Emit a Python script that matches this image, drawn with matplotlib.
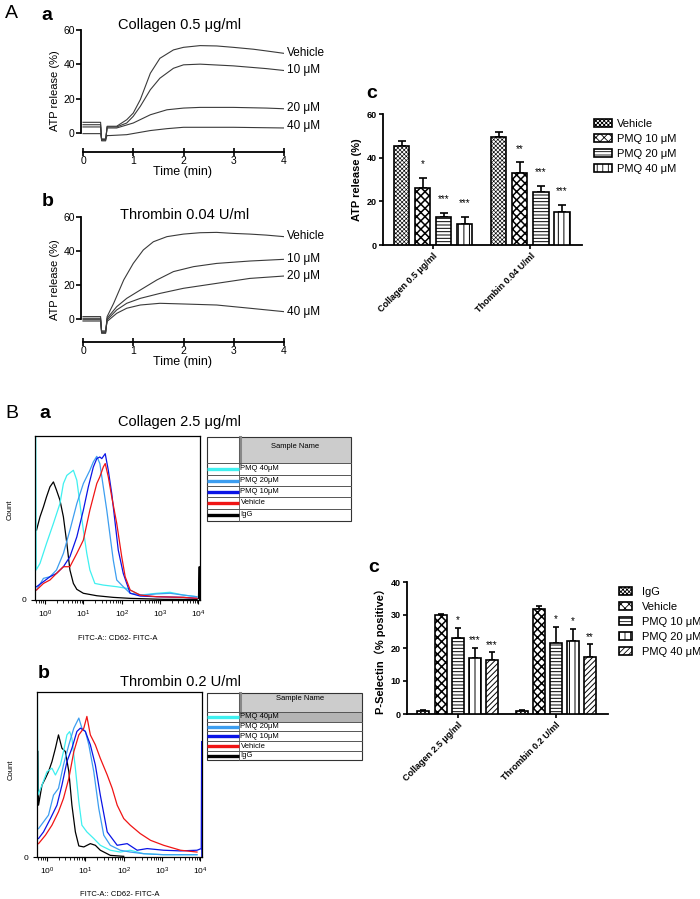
import numpy as np
import matplotlib
matplotlib.use("Agg")
import matplotlib.pyplot as plt
from matplotlib.patches import Rectangle, Patch
from matplotlib.ticker import LogLocator, NullFormatter

plt.rcParams['font.family'] = ['Liberation Sans', 'DejaVu Sans']
plt.rcParams['hatch.linewidth'] = 0.6

# ---------------- data ----------------
dose_names = ['Vehicle', '10 μM', '20 μM', '40 μM']

# A a: collagen 0.5 ug/ml, ATP release traces (time min, %)
aa_veh_t = [0, 0.35, 0.37, 0.45, 0.48, 0.67, 0.87, 1.0, 1.14, 1.34, 1.53, 1.8, 2.0, 2.33, 2.66, 2.99, 3.39, 3.65, 4.0]
aa_veh_v = [6.2, 6.2, -4.6, -4.6, 3.9, 3.9, 7.7, 11.6, 19.4, 34.8, 43.5, 48.4, 49.9, 50.9, 50.7, 49.9, 48.8, 47.8, 46.4]
aa_10_t = [0, 0.35, 0.37, 0.45, 0.48, 0.67, 0.87, 1.0, 1.14, 1.34, 1.53, 1.8, 2.0, 2.33, 2.99, 3.65, 4.0]
aa_10_v = [4.8, 4.8, -4.2, -4.2, 3.5, 3.5, 5.8, 9.7, 15.5, 25.2, 31.9, 37.7, 39.7, 40.1, 39.1, 37.5, 36.4]
aa_20_t = [0, 0.35, 0.37, 0.45, 0.48, 0.67, 1.0, 1.34, 1.67, 2.0, 2.33, 2.99, 3.65, 4.0]
aa_20_v = [3.5, 3.5, -3.8, -3.8, 2.9, 2.9, 5.8, 10.6, 13.5, 14.5, 14.9, 14.9, 14.5, 14.1]
aa_40_t = [0, 0.35, 0.37, 0.45, 0.48, 0.54, 0.87, 1.34, 1.67, 2.0, 2.99, 4.0]
aa_40_v = [-0.4, -0.4, -3.5, -3.5, -1.5, -1.5, -1.0, 1.4, 2.5, 3.3, 3.3, 2.9]
aa_label_y = [46.8, 36.8, 14.5, 3.9]

# A b: thrombin 0.04 U/ml
ab_veh_t = [0, 0.35, 0.37, 0.45, 0.48, 0.61, 0.81, 1.0, 1.2, 1.4, 1.67, 2.0, 2.33, 2.66, 2.99, 3.32, 3.65, 4.0]
ab_veh_v = [1.4, 1.4, -8.4, -8.4, 1.4, 9.2, 22.9, 32.6, 40.5, 45.3, 48.3, 49.8, 50.6, 50.8, 50.2, 49.8, 49.2, 48.3]
ab_10_t = [0, 0.35, 0.37, 0.45, 0.48, 0.67, 0.87, 1.14, 1.47, 1.8, 2.2, 2.66, 3.32, 4.0]
ab_10_v = [0.4, 0.4, -8.0, -8.0, 0.4, 7.2, 12.1, 17.0, 22.9, 27.8, 30.7, 32.6, 34.0, 35.0]
ab_20_t = [0, 0.35, 0.37, 0.45, 0.48, 0.67, 0.87, 1.14, 1.53, 2.0, 2.66, 3.32, 4.0]
ab_20_v = [-0.4, -0.4, -7.5, -7.5, -0.5, 5.3, 9.2, 12.1, 15.0, 18.0, 20.9, 23.8, 25.2]
ab_40_t = [0, 0.35, 0.37, 0.45, 0.48, 0.67, 0.87, 1.14, 1.53, 2.0, 2.66, 3.32, 4.0]
ab_40_v = [-1.2, -1.2, -7.0, -7.0, -1.4, 3.3, 6.3, 8.2, 9.2, 8.8, 8.2, 6.3, 4.3]
ab_label_y = [48.7, 35.0, 25.2, 4.3]

# A c: ATP release bars
atp_groups = ['Collagen 0.5 μg/ml', 'Thombin 0.04 U/ml']
atp_names = ['Vehicle', 'PMQ 10 μM', 'PMQ 20 μM', 'PMQ 40 μM']
atp_mean = [[45.5, 26.3, 12.6, 9.6], [49.3, 32.9, 24.5, 15.3]]
atp_err = [[2.3, 4.3, 1.9, 3.1], [2.4, 4.9, 2.6, 2.9]]
atp_stars = [['', '*', '***', '***'], ['', '**', '***', '***']]

# B c: P-selectin bars
ps_groups = ['Collagen 2.5 μg/ml', 'Thrombin 0.2 U/ml']
ps_names = ['IgG', 'Vehicle', 'PMQ 10 μM', 'PMQ 20 μM', 'PMQ 40 μM']
ps_mean = [[0.8, 30.0, 22.9, 17.1, 16.4], [1.0, 31.8, 21.6, 22.2, 17.4]]
ps_err = [[0.3, 0.4, 3.2, 3.0, 2.3], [0.3, 1.0, 4.8, 3.7, 3.7]]
ps_stars = [['', '', '*', '***', '***'], ['', '', '*', '*', '**']]

# B a: flow histograms, collagen (FITC decade, % of max count)
ba_igg_d = [-0.22, -0.13, -0.04, 0.04, 0.13, 0.22, 0.30, 0.39, 0.48, 0.57, 0.65, 0.74, 0.83, 1.0, 1.35, 1.78, 2.22, 3.09, 3.96, 4.0, 4.02, 4.03]
ba_igg_c = [42.6, 50.7, 56.8, 62.9, 69.0, 72.0, 67.0, 60.9, 50.7, 34.5, 18.3, 10.1, 6.5, 4.1, 2.6, 1.6, 1.0, 0.4, 0.4, 1.0, 20.3, 0]
ba_40_d = [-0.25, -0.245, -0.23, -0.13, 0.04, 0.22, 0.39, 0.48, 0.57, 0.74, 0.83, 0.91, 1.0, 1.09, 1.17, 1.30, 1.52, 1.87, 2.13, 2.48, 2.91, 3.26, 3.61, 3.96]
ba_40_c = [0, 100, 18.3, 22.3, 34.5, 46.7, 58.8, 71.0, 76.0, 79.1, 73.0, 58.8, 42.6, 28.4, 18.3, 10.1, 9.1, 8.1, 7.1, 3.0, 4.1, 4.7, 3.0, 2.0]
ba_20_d = [-0.22, -0.04, 0.13, 0.30, 0.48, 0.65, 0.83, 1.0, 1.17, 1.26, 1.35, 1.43, 1.52, 1.61, 1.70, 1.78, 1.87, 2.04, 2.22, 2.57, 2.91, 3.26, 3.61, 3.96]
ba_20_c = [6.1, 13.2, 14.2, 18.3, 28.4, 42.6, 58.8, 71.0, 79.1, 84.2, 87.6, 83.2, 69.0, 54.8, 38.5, 24.3, 12.2, 8.1, 4.1, 3.0, 3.7, 4.1, 3.0, 2.0]
ba_10_d = [-0.22, -0.04, 0.13, 0.30, 0.48, 0.65, 0.83, 1.0, 1.13, 1.26, 1.35, 1.43, 1.48, 1.57, 1.65, 1.74, 1.83, 1.91, 2.04, 2.22, 2.48, 2.91, 3.61, 3.96]
ba_10_c = [8.1, 11.2, 14.2, 16.2, 20.3, 26.4, 38.5, 54.8, 69.0, 81.1, 86.2, 87.2, 86.2, 89.2, 79.1, 64.9, 46.7, 30.4, 16.2, 4.1, 2.4, 2.0, 1.6, 1.0]
ba_veh_d = [-0.22, -0.04, 0.13, 0.30, 0.48, 0.65, 0.83, 1.0, 1.17, 1.35, 1.43, 1.52, 1.57, 1.65, 1.74, 1.87, 2.0, 2.09, 2.22, 2.48, 2.91, 3.61, 3.96]
ba_veh_c = [6.1, 10.1, 12.2, 16.2, 20.3, 20.3, 28.4, 36.5, 54.8, 71.0, 75.1, 81.1, 83.2, 75.1, 62.9, 46.7, 26.4, 14.2, 6.1, 3.0, 2.0, 1.6, 1.0]

# B b: flow histograms, thrombin
bb_igg_d = [-0.235, -0.22, -0.13, -0.04, 0.04, 0.13, 0.22, 0.30, 0.39, 0.48, 0.57, 0.65, 0.74, 0.83, 0.96, 1.13, 1.26, 1.39, 1.65, 2.0]
bb_igg_c = [64.0, 31.4, 43.6, 47.7, 51.7, 57.8, 65.9, 74.0, 65.9, 63.9, 51.7, 31.4, 15.2, 6.7, 6.1, 8.1, 7.1, 4.1, 1.0, 0.4]
bb_40_d = [-0.255, -0.25, -0.235, -0.13, 0.0, 0.13, 0.22, 0.35, 0.43, 0.52, 0.59, 0.65, 0.74, 0.83, 0.91, 1.04, 1.22, 1.39, 1.65, 1.91, 2.17, 2.52, 3.04, 3.91]
bb_40_c = [0, 100, 37.5, 43.6, 51.7, 53.8, 49.7, 55.8, 63.9, 74.0, 76.0, 72.0, 53.8, 33.5, 19.3, 15.2, 11.2, 7.1, 4.1, 3.0, 4.1, 2.0, 1.4, 1.4]
bb_20_d = [-0.22, -0.09, 0.04, 0.17, 0.30, 0.43, 0.57, 0.70, 0.83, 0.91, 1.0, 1.09, 1.22, 1.35, 1.48, 1.65, 1.91, 2.17, 2.52, 3.04, 3.91]
bb_20_c = [17.2, 21.3, 25.4, 37.5, 41.6, 55.8, 68.0, 78.1, 84.2, 78.1, 76.1, 68.0, 51.7, 29.4, 13.2, 7.1, 4.1, 3.0, 2.0, 1.4, 1.4]
bb_10_d = [-0.22, -0.09, 0.09, 0.26, 0.39, 0.52, 0.65, 0.78, 0.87, 1.0, 1.13, 1.26, 1.39, 1.57, 1.83, 2.09, 2.35, 2.61, 3.04, 3.48, 3.91, 4.02, 4.03, 4.035]
bb_10_c = [11.2, 15.2, 23.3, 31.4, 43.6, 57.8, 65.9, 76.1, 78.1, 76.1, 68.0, 55.8, 37.5, 15.2, 7.1, 8.1, 4.1, 5.1, 4.1, 3.7, 4.1, 5.1, 70.0, 0]
bb_veh_d = [-0.22, -0.04, 0.13, 0.30, 0.43, 0.57, 0.70, 0.83, 0.96, 1.04, 1.13, 1.26, 1.39, 1.57, 1.70, 1.83, 2.0, 2.17, 2.43, 2.70, 3.04, 3.48, 3.91]
bb_veh_c = [8.1, 13.2, 19.3, 27.4, 35.5, 47.7, 63.9, 74.0, 78.1, 85.2, 74.0, 68.0, 59.8, 49.7, 41.6, 31.4, 23.3, 19.3, 14.2, 10.1, 7.1, 4.1, 3.0]

sample_names = ['PMQ 40μM', 'PMQ 20μM', 'PMQ 10μM', 'Vehicle', 'IgG']
sample_colors = ['#3ff0f0', '#3d9ef0', '#0a14e6', '#f01414', '#000000']

# ---------------- figure ----------------
W, H = 700, 899
fig = plt.figure(figsize=(7, 8.99), dpi=100)


def box(l, t, r, b):
    return [l / W, 1 - b / H, (r - l) / W, (b - t) / H]


def release_panel(rect, curves, label_y, ymin):
    ax = fig.add_axes(rect)
    for t, v in curves:
        ax.plot(t, v, color='#3a3a3a', lw=0.8)
    for name, y in zip(dose_names, label_y):
        ax.text(4.06, y, name, fontsize=8.5, va='center', ha='left', clip_on=False)
    ax.set_xlim(-0.04, 4.0)
    ax.set_ylim(ymin, 60)
    ax.spines[['top', 'right']].set_visible(False)
    ax.spines['left'].set_bounds(0, 60)
    ax.spines['bottom'].set_bounds(0, 4)
    for s in ['left', 'bottom']:
        ax.spines[s].set_linewidth(1.3)
    ax.set_xticks([0, 1, 2, 3, 4])
    ax.set_yticks([0, 20, 40, 60])
    ax.tick_params(axis='x', direction='inout', length=6, width=1.2, labelsize=7.5, pad=0)
    ax.tick_params(axis='y', direction='out', length=3.5, width=1.2, labelsize=7.5, pad=1)
    ax.set_xlabel('Time (min)', fontsize=9, labelpad=0)
    ax.set_ylabel('ATP release (%)', fontsize=8, labelpad=2)
    return ax


release_panel(box(81, 30, 284, 152),
              [(aa_veh_t, aa_veh_v), (aa_10_t, aa_10_v), (aa_20_t, aa_20_v), (aa_40_t, aa_40_v)],
              aa_label_y, -11.1)
release_panel(box(81, 216.7, 284, 342),
              [(ab_veh_t, ab_veh_v), (ab_10_t, ab_10_v), (ab_20_t, ab_20_v), (ab_40_t, ab_40_v)],
              ab_label_y, -13.5)


def hatched(p, hatch, hlw):
    p.set_hatch(hatch)
    if hasattr(p, 'set_hatch_linewidth'):
        p.set_hatch_linewidth(hlw)


def bar_panel(rect, groups, names, means, errs, stars, hatches, hatch_lws, ymax, step, width,
              capsize, star_off, ylabel, leg_xy, leg_fs, leg_hl, leg_pad):
    ax = fig.add_axes(rect)
    n = len(names)
    handles = []
    for i in range(n):
        xs = [g + (i - (n - 1) / 2) * step for g in range(len(groups))]
        m = [means[g][i] for g in range(len(groups))]
        e = [errs[g][i] for g in range(len(groups))]
        ax.errorbar(xs, m, yerr=[np.zeros(len(e)), e], fmt='none', ecolor='black',
                    elinewidth=1.2, capsize=capsize, capthick=1.2, zorder=2)
        bars = ax.bar(xs, m, width=width, facecolor='white', edgecolor='black', lw=1.2, zorder=3)
        for b in bars:
            hatched(b, hatches[i], hatch_lws[i])
        for x, mm, ee, g in zip(xs, m, e, range(len(groups))):
            s = stars[g][i]
            if s:
                ax.annotate(s, (x, mm + ee), xytext=(0, star_off), textcoords='offset points',
                            ha='center', va='center', fontsize=7)
        h = Patch(facecolor='white', edgecolor='black', lw=1.2)
        hatched(h, hatches[i], hatch_lws[i])
        handles.append(h)
    ax.set_xlim(-0.515, len(groups) - 1 + 0.53)
    ax.set_ylim(0, ymax)
    ax.set_yticks(np.arange(0, ymax + 1, 10 if ymax == 40 else 20))
    ax.set_xticks(range(len(groups)))
    ax.set_xticklabels(groups, rotation=45, ha='right', rotation_mode='anchor',
                       fontsize=6.5, fontweight='bold')
    plt.setp(ax.get_yticklabels(), fontweight='bold')
    ax.tick_params(axis='both', direction='out', length=3, width=1.2, labelsize=6.5, pad=1.5)
    ax.spines[['top', 'right']].set_visible(False)
    for s in ['left', 'bottom']:
        ax.spines[s].set_linewidth(1.3)
    ax.set_ylabel(ylabel, fontsize=8, fontweight='bold', labelpad=3,
                  family=['Liberation Sans', 'Noto Sans CJK SC'])
    fig.legend(handles, names, loc='upper left',
               bbox_to_anchor=(leg_xy[0] / W, 1 - leg_xy[1] / H),
               frameon=False, fontsize=leg_fs, handlelength=leg_hl, handleheight=0.75,
               handletextpad=leg_pad, labelspacing=0.45, borderaxespad=0, borderpad=0)
    return ax


bar_panel(box(383, 114, 582, 245), atp_groups, atp_names, atp_mean, atp_err, atp_stars,
          ['xxxxxxxx', 'xxxx', '-----', '|||'], [0.45, 1.1, 0.7, 0.7], 60, 0.2165, 0.155, 3, 10,
          'ATP release (%)', (594, 119), 8, 1.6, 0.5)
bar_panel(box(407, 582, 608, 714), ps_groups, ps_names, ps_mean, ps_err, ps_stars,
          ['xxxxxxxx', 'xxxx', '-----', '|||', '//////'], [0.45, 1.1, 0.7, 0.7, 0.7],
          40, 0.174, 0.122, 2.5, 5.5,
          'P-Selectin（% positive）', (619, 587), 8, 1.15, 0.9)


def flow_panel(rect, curves):
    ax = fig.add_axes(rect)
    for d, c, col in curves:
        ax.plot(10 ** np.array(d), c, color=col, lw=0.9)
    ax.set_xscale('log')
    ax.set_xlim(10 ** -0.26, 10 ** 4.04)
    ax.set_ylim(0, 100)
    ax.set_xticks([1, 10, 100, 1000, 10000])
    ax.set_xticklabels([r'$\mathregular{10^{%d}}$' % k for k in range(5)])
    ax.xaxis.set_minor_locator(LogLocator(base=10, subs=np.arange(2, 10)))
    ax.xaxis.set_minor_formatter(NullFormatter())
    ax.set_yticks([0])
    ax.set_yticklabels(['0'])
    ax.tick_params(axis='both', which='major', direction='out', length=3, width=0.8,
                   labelsize=6, pad=3)
    ax.tick_params(axis='x', which='minor', direction='out', length=2, width=0.6)
    for s in ax.spines.values():
        s.set_linewidth(0.9)
    return ax


c40, c20, c10, cveh, cigg = sample_colors
flow_panel(box(35, 436, 200, 600),
           [(ba_igg_d, ba_igg_c, cigg), (ba_40_d, ba_40_c, c40), (ba_20_d, ba_20_c, c20),
            (ba_10_d, ba_10_c, c10), (ba_veh_d, ba_veh_c, cveh)])
flow_panel(box(37, 692, 202, 857),
           [(bb_igg_d, bb_igg_c, cigg), (bb_40_d, bb_40_c, c40), (bb_20_d, bb_20_c, c20),
            (bb_10_d, bb_10_c, c10), (bb_veh_d, bb_veh_c, cveh)])

# ---------------- overlay: panel letters, titles, tables ----------------
ov = fig.add_axes([0, 0, 1, 1], facecolor='none')
ov.set_xlim(0, W)
ov.set_ylim(H, 0)
ov.axis('off')

for x, y, s in [(5, 14, 'A'), (5, 414, 'B')]:
    ov.text(x, y, s, fontsize=14, va='center', ha='left')
for x, y, s in [(41, 15, 'a'), (42, 202, 'b'), (366, 93, 'c'),
                (39, 414, 'a'), (38, 673, 'b'), (368, 568, 'c')]:
    ov.text(x, y, s, fontsize=14, fontweight='bold', va='center', ha='left')
for x, y, s in [(180, 25, 'Collagen 0.5 μg/ml'), (185, 215, 'Thrombin 0.04 U/ml'),
                (180, 422, 'Collagen 2.5 μg/ml'), (180, 682, 'Thrombin 0.2 U/ml')]:
    ov.text(x, y, s, fontsize=10.5, va='center', ha='center')
for x, y in [(10, 510), (11, 770)]:
    ov.text(x, y, 'Count', fontsize=5.5, rotation=90, va='center', ha='center')
for x, y in [(118, 638), (120, 895)]:
    ov.text(x, y, 'FITC-A:: CD62- FITC-A', fontsize=5.5, va='center', ha='center')


def sample_table(x0, xc, x1, top, rows, name_y, shade_row=None):
    hb = rows[0]
    ov.add_patch(Rectangle((xc, top), x1 - xc, hb - top, fc='#cccccc', ec='none'))
    ov.plot([xc + 1, xc + 1], [top, hb], color='#888888', lw=2.2)
    if shade_row is not None:
        ov.add_patch(Rectangle((xc, rows[shade_row]), x1 - xc,
                               rows[shade_row + 1] - rows[shade_row], fc='#b4b4b4', ec='none'))
    ov.plot([xc, xc], [top, rows[-1]], color='#555555', lw=0.6)
    ov.add_patch(Rectangle((x0, top), x1 - x0, rows[-1] - top, fc='none', ec='#333333', lw=0.8))
    ov.text((xc + x1) / 2, name_y, 'Sample Name', fontsize=5.5, ha='center', va='center')
    for y in rows[:-1]:
        ov.plot([x0, x1], [y, y], color='#555555', lw=0.7)
    for i, (name, col) in enumerate(zip(sample_names, sample_colors)):
        yc = (rows[i] + rows[i + 1]) / 2
        ov.plot([x0, xc], [yc, yc], color=col, lw=2.4, solid_capstyle='butt')
        ov.text(xc + 1.5, yc, name, fontsize=5.5, va='center', ha='left')


sample_table(207, 239, 351, 437, [463, 475, 486, 497, 509, 521], 446)
sample_table(207, 239, 362, 693, [712, 722, 731, 741, 751, 760], 698, shade_row=0)

fig.savefig('out.png', dpi=100)
